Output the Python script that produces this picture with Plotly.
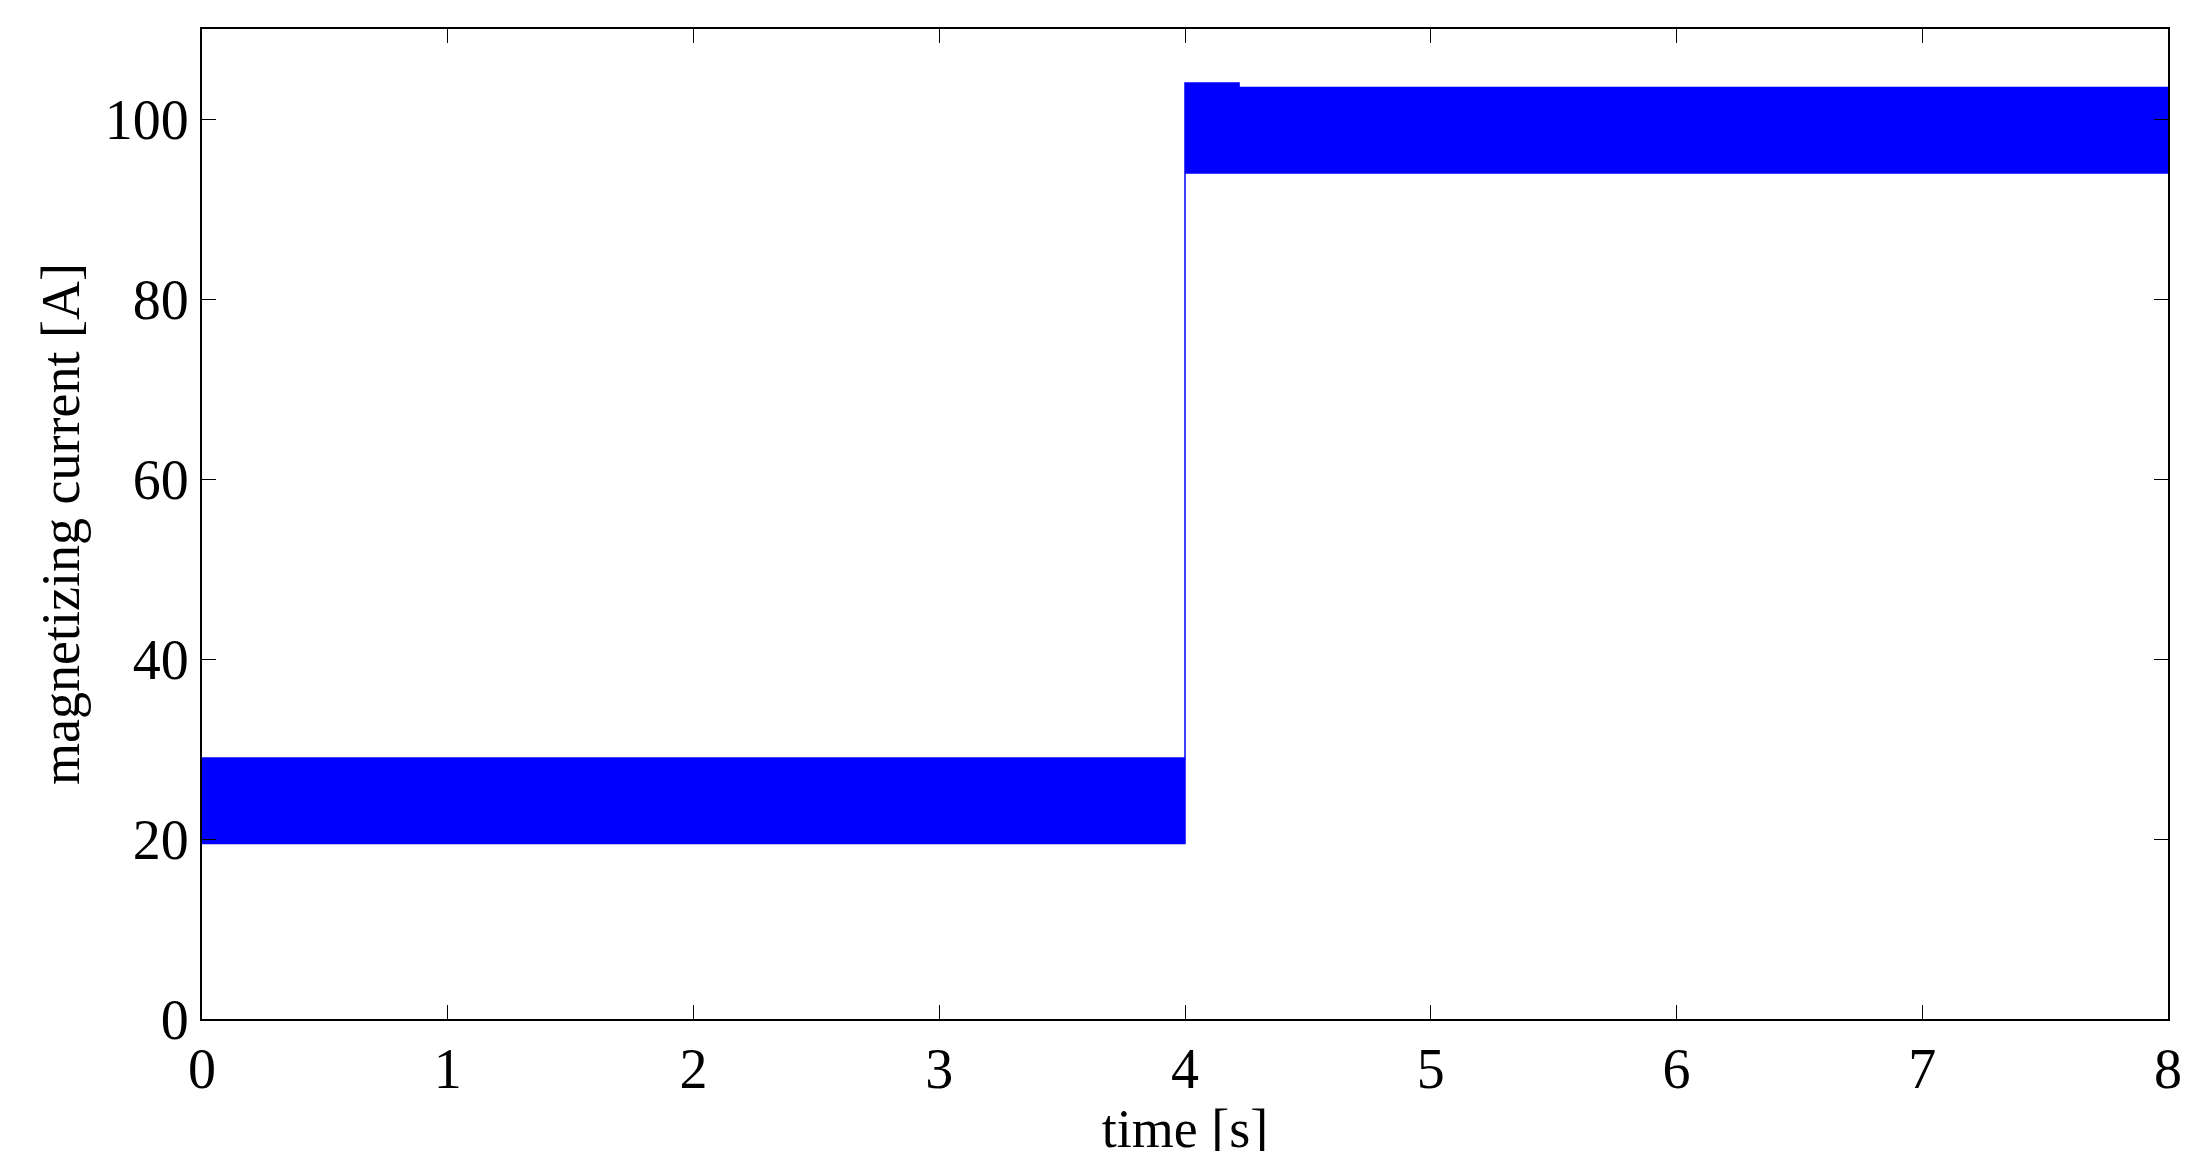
import plotly.graph_objects as go

# envelope of the oscillating magnetizing current
upper_t = [0.0, 4.0, 4.0, 4.22, 4.22, 8.0]
upper_i = [29.0, 29.0, 104.0, 104.0, 103.5, 103.5]
lower_t = [0.0, 4.0, 4.0, 4.0, 8.0]
lower_i = [19.5, 19.5, 21.0, 94.0, 94.0]

x_ticks = [0, 1, 2, 3, 4, 5, 6, 7, 8]
y_ticks = [0, 20, 40, 60, 80, 100]

poly_t = upper_t + lower_t[::-1]
poly_i = upper_i + lower_i[::-1]

fig = go.Figure()
fig.add_trace(go.Scatter(x=poly_t, y=poly_i, fill="toself", mode="lines",
                         line=dict(color="#0000ff", width=1.5),
                         fillcolor="#0000ff", showlegend=False))

font = dict(family="Liberation Serif", size=56, color="black")
tfont = dict(family="Liberation Serif", size=54, color="black")
axis = dict(showgrid=False, zeroline=False, showline=True, mirror="ticks",
            linecolor="black", linewidth=2, ticks="inside", ticklen=14,
            tickcolor="black", tickfont=font)
fig.update_layout(
    width=2188, height=1151, plot_bgcolor="white", paper_bgcolor="white",
    margin=dict(l=194, r=28, t=21, b=140),
    xaxis=dict(range=[0, 8], tickvals=x_ticks,
               title=dict(text="time [s]", font=tfont, standoff=4), **axis),
    yaxis=dict(range=[0, 110], tickvals=y_ticks,
               title=dict(text="magnetizing current [A]", font=tfont, standoff=8), **axis),
)
fig.write_html("out.html")
